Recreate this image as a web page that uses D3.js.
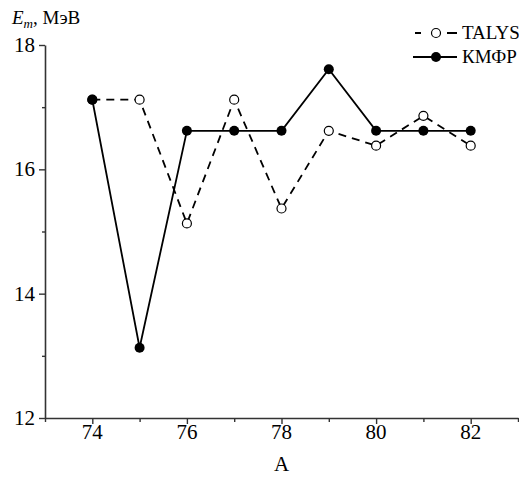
<!DOCTYPE html>
<html><head><meta charset="utf-8">
<script src="https://cdn.jsdelivr.net/npm/d3@7"></script>
<style>body{margin:0;background:#fff;}</style>
</head><body>
<svg id="c" width="519" height="478"></svg>
<script>
const massNumbers = [74, 75, 76, 77, 78, 79, 80, 81, 82];
const talys = [17.12, 17.12, 15.13, 17.12, 15.37, 16.62, 16.38, 16.86, 16.38];
const kmfr  = [17.12, 13.13, 16.62, 16.62, 16.62, 17.61, 16.62, 16.62, 16.62];
const xTicks = [74, 76, 78, 80, 82];
const xMinor = [73, 75, 77, 79, 81, 83];
const yTicks = [12, 14, 16, 18];
const yMinor = [13, 15, 17];
const seriesNames = ["TALYS", "КМФР"];

const FONT = "'Liberation Serif'";
const svg = d3.select("#c");
const x = d3.scaleLinear().domain([73, 83]).range([45, 518]);
const y = d3.scaleLinear().domain([12, 18]).range([418, 45]);
const axisColor = "#333";

function addText(parent, px, py, size, str) {
  return parent.append("text").attr("x", px).attr("y", py)
    .style("font-family", FONT).style("font-size", size + "px").text(str);
}

// axis lines and ticks (labels drawn separately as plain text)
const gx = svg.append("g").attr("transform", `translate(0,${y(12)})`);
gx.call(d3.axisBottom(x).tickValues(xTicks).tickFormat("").tickSize(6).tickSizeOuter(0));
const gxm = svg.append("g").attr("transform", `translate(0,${y(12)})`);
gxm.call(d3.axisBottom(x).tickValues(xMinor).tickFormat("").tickSize(4).tickSizeOuter(0));
gxm.select(".domain").remove();
const gy = svg.append("g").attr("transform", `translate(${x(73)},0)`);
gy.call(d3.axisLeft(y).tickValues(yTicks).tickFormat("").tickSize(6).tickSizeOuter(0));
const gym = svg.append("g").attr("transform", `translate(${x(73)},0)`);
gym.call(d3.axisLeft(y).tickValues(yMinor).tickFormat("").tickSize(3).tickSizeOuter(0));
gym.select(".domain").remove();
svg.selectAll(".tick text").remove();
svg.selectAll(".domain").attr("stroke", axisColor).attr("stroke-width", 1.6);
svg.selectAll(".tick line").attr("stroke", axisColor).attr("stroke-width", 1.4);

xTicks.forEach(v => addText(svg, x(v), 439, 21, String(v)).attr("text-anchor", "middle"));
yTicks.forEach(v => addText(svg, 35, y(v) + 7, 21, String(v)).attr("text-anchor", "end"));

addText(svg, x(78), 471, 21, "A").attr("text-anchor", "middle");
const yt = addText(svg, 12, 24, 19, "");
yt.append("tspan").style("font-style", "italic").text("E");
yt.append("tspan").style("font-style", "italic").style("font-size", "13px").attr("dy", 4).text("m");
yt.append("tspan").attr("dy", -4).text(", МэВ");

const line = d3.line().x((d, i) => x(massNumbers[i])).y(d => y(d));
svg.append("path").datum(kmfr).attr("d", line).attr("fill", "none")
  .attr("stroke", "#000").attr("stroke-width", 1.8);
svg.append("path").datum(talys).attr("d", line).attr("fill", "none")
  .attr("stroke", "#000").attr("stroke-width", 1.8).attr("stroke-dasharray", "8,6");

svg.append("g").selectAll("circle").data(talys).join("circle")
  .attr("cx", (d, i) => x(massNumbers[i])).attr("cy", d => y(d)).attr("r", 4.5)
  .attr("fill", "#fff").attr("stroke", "#000").attr("stroke-width", 1.2);
svg.append("g").selectAll("circle").data(kmfr).join("circle")
  .attr("cx", (d, i) => x(massNumbers[i])).attr("cy", d => y(d)).attr("r", 5)
  .attr("fill", "#000");

const lg = svg.append("g");
lg.append("line").attr("x1", 415).attr("x2", 457).attr("y1", 33).attr("y2", 33)
  .attr("stroke", "#000").attr("stroke-width", 1.8).attr("stroke-dasharray", "6,14,6");
lg.append("circle").attr("cx", 436).attr("cy", 33).attr("r", 4.5).attr("fill", "#fff")
  .attr("stroke", "#000").attr("stroke-width", 1.2);
addText(lg, 462, 39, 19, seriesNames[0]);
lg.append("line").attr("x1", 413).attr("x2", 457).attr("y1", 57).attr("y2", 57)
  .attr("stroke", "#000").attr("stroke-width", 1.8);
lg.append("circle").attr("cx", 436).attr("cy", 57).attr("r", 5).attr("fill", "#000");
addText(lg, 462, 63, 19, seriesNames[1]);
</script>
</body></html>
